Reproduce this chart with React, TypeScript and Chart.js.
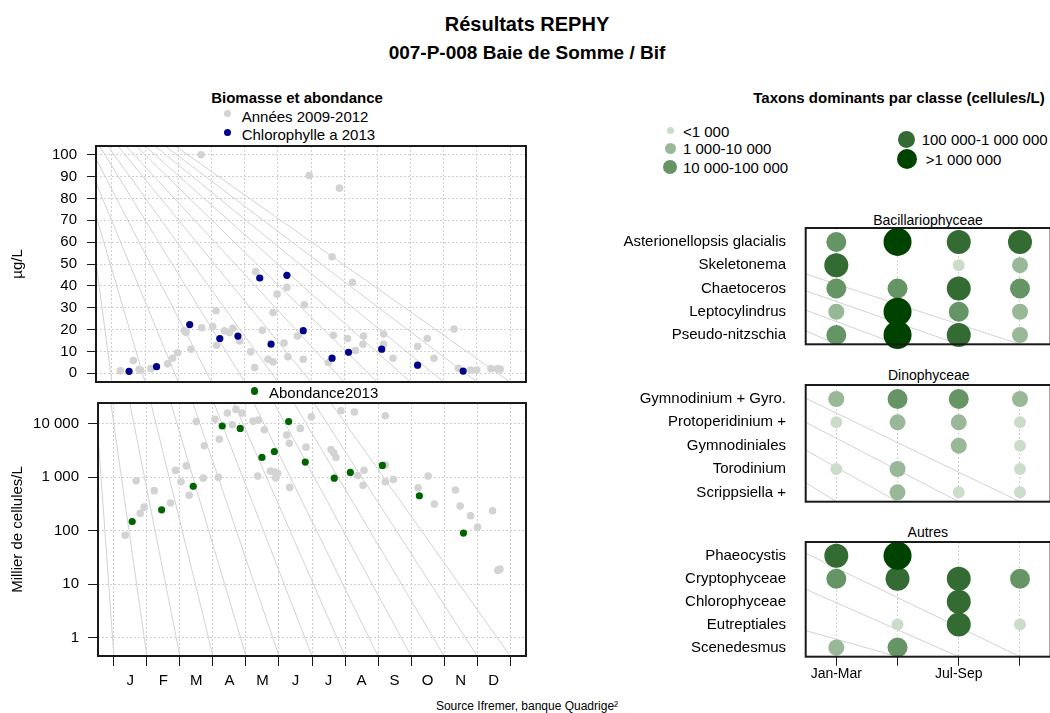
import React, { useEffect, useRef } from "react";
import { Chart, registerables } from "chart.js";

Chart.register(...registerables);

const FONT = '"Liberation Sans", Arial, Helvetica, sans-serif';

// ---------- Data ----------
const MONTHS = ["J", "F", "M", "A", "M", "J", "J", "A", "S", "O", "N", "D"];
const MONTH_BOUNDS = [0, 30.4, 60.8, 91.3, 121.7, 152.1, 182.5, 212.9, 243.3, 273.8, 304.2, 334.6, 365];
const CHL_TICKS = [0, 10, 20, 30, 40, 50, 60, 70, 80, 90, 100];
const AB_TICKS = [1, 10, 100, 1000, 10000];

// Chlorophylle a, années 2009-2012 (jour de l'année, µg/L)
const chlHistDays = [7.7, 19.6, 24.9, 26.4, 35.7, 51, 55.6, 60.2, 66.4, 67.9, 72.5, 81.7, 82.3, 92.4, 95.5, 96.1, 103.2, 107.8, 110.9, 117.1, 127.2, 130.9, 131.8, 137.9, 143.1, 147.7, 147.7, 151.4, 157.8, 160.4, 161.3, 170.1, 175.4, 176.3, 180.9, 198.4, 201.8, 203, 208.6, 215.9, 220.5, 223.3, 230.1, 230.7, 249.1, 249.1, 257.7, 280.2, 289.1, 295.2, 313.6, 317.6, 329, 334.5, 347.5, 353.6, 356];
const chlHistVals = [1.1, 5.8, 1.7, 1.4, 2.1, 4.3, 6.9, 9.4, 19.4, 18.6, 11.0, 100, 20.8, 21.4, 28.6, 12.8, 19.4, 18.6, 20.6, 14.8, 9.8, 2.6, 46.5, 19.7, 6.4, 27.8, 5.2, 36.2, 13.8, 39.3, 7.5, 17.0, 6.4, 31.3, 90.5, 4.9, 53.3, 17.4, 84.7, 15.9, 41.6, 10.4, 13.3, 17.0, 18.0, 13.3, 6.9, 12.2, 15.9, 6.9, 20.2, 2.3, 1.5, 1.5, 2.1, 2.1, 1.8];

// Chlorophylle a 2013
const chl2013Days = [15.7, 40.9, 71.3, 98.9, 115.5, 135.5, 145.9, 160.4, 175.4, 201.8, 216.9, 247.3, 280.2, 322];
const chl2013Vals = [0.9, 3.0, 22.3, 15.9, 17.0, 43.6, 13.3, 44.8, 19.5, 6.9, 9.6, 11.0, 3.7, 1.0];

// Abondance (milliers de cellules/L), années 2009-2012
const abHistDays = [10.4, 20.5, 24.3, 27.9, 37.2, 52.2, 56.8, 61.8, 66.7, 69.4, 75.9, 82.3, 83.3, 93.1, 96.2, 97.1, 104.5, 109.1, 112.5, 118.3, 128.2, 132.5, 133.1, 138.6, 144.2, 147.8, 149.1, 150.9, 159.2, 161.6, 161.9, 171.7, 177, 181.9, 200.1, 202.5, 204.6, 209.2, 221.5, 224.6, 229.5, 230.4, 250, 250, 250, 257.4, 280.2, 289.4, 295.2, 314.6, 319, 328.5, 335, 348.8, 353.7, 355.6];
const abHistVals = [82, 855, 210, 275, 560, 330, 1340, 820, 1630, 460, 11000, 960, 3880, 12200, 1000, 5150, 15900, 9600, 18600, 15900, 11200, 1050, 11700, 7750, 1300, 1260, 970, 1180, 6140, 4300, 645, 8200, 3650, 13500, 3300, 2870, 2340, 17500, 16600, 1080, 705, 1350, 14100, 820, 1690, 910, 635, 1050, 315, 575, 288, 190, 117, 235, 18, 19];

// Abondance 2013
const ab2013Days = [16.9, 44, 73.1, 99.8, 116.4, 136.4, 147.8, 161, 176.3, 203, 217.8, 247.3, 281.4, 322];
const ab2013Vals = [148, 245, 675, 9100, 8200, 2350, 3030, 11000, 1920, 960, 1230, 1660, 450, 90];

// Décor : lignes grises en éventail (jour au bord haut du cadre ; le bas est sur les limites de mois)
const chlFanTop = [-28.9, -33.4, -28.4, -20.7, -11.3, -3.7, 5.5, 12.9, 22.1, 30.4, 39.6, 48.8, 58.1];
const abFanTop = [-16.7, -2.8, 14.7, 34.1, 52.5, 72.8, 92.2, 110.6, 129.0, 147.5, 165.9, 184.3, 200.0];

// Taxons dominants (classe d'abondance par trimestre : 0 absent, 1..5)
const QUARTERS = ["Jan-Mar", "Apr-Jun", "Jul-Sep", "Oct-Dec"];
const CLASS_LABELS = ["<1 000", "1 000-10 000", "10 000-100 000", "100 000-1 000 000", ">1 000 000"];
const CLASS_COLORS = ["#cbdccb", "#98b898", "#659465", "#336b33", "#004200"];
const CLASS_RADII = [6, 8, 10, 12, 14];
const LEGEND_RADII = [3.5, 5.5, 7, 8.5, 10];

const bacTaxa = ["Asterionellopsis glacialis", "Skeletonema", "Chaetoceros", "Leptocylindrus", "Pseudo-nitzschia"];
const bacClasses = [
  [3, 5, 4, 4],
  [4, 0, 1, 2],
  [3, 3, 4, 3],
  [2, 5, 3, 2],
  [3, 5, 4, 2],
];
const dinoTaxa = ["Gymnodinium + Gyro.", "Protoperidinium +", "Gymnodiniales", "Torodinium", "Scrippsiella +"];
const dinoClasses = [
  [2, 3, 3, 2],
  [1, 2, 2, 1],
  [0, 0, 2, 1],
  [1, 2, 0, 1],
  [0, 2, 1, 1],
];
const autTaxa = ["Phaeocystis", "Cryptophyceae", "Chlorophyceae", "Eutreptiales", "Scenedesmus"];
const autClasses = [
  [4, 5, 0, 0],
  [3, 4, 4, 3],
  [0, 0, 4, 0],
  [0, 1, 4, 1],
  [2, 3, 0, 0],
];
// Décor des panneaux de droite : [ligne au bord gauche, colonne au bord bas]
const bacFan = [[2.38, 4], [3.1, 3], [3.93, 2], [4.82, 1]];
const dinoFan = [[0.97, 4], [2.0, 3], [3.19, 2], [4.58, 1]];
const autFan = [[0.89, 4], [2.46, 3], [4.26, 2]];

// ---------- Plugins ----------
const boxPlugin = {
  id: "box",
  afterDraw(chart: any) {
    const { ctx, chartArea: a } = chart;
    ctx.save();
    ctx.strokeStyle = "#1a1a1a";
    ctx.lineWidth = 2;
    ctx.strokeRect(a.left, a.top, a.right - a.left, a.bottom - a.top);
    ctx.restore();
  },
};

const fanPlugin = {
  id: "fan",
  beforeDatasetsDraw(chart: any, _args: any, opts: any) {
    const lines = opts && opts.lines;
    if (!lines) return;
    const { ctx, chartArea: a, scales } = chart;
    const x = scales.x, y = scales.y;
    ctx.save();
    ctx.beginPath();
    ctx.rect(a.left, a.top, a.right - a.left, a.bottom - a.top);
    ctx.clip();
    ctx.strokeStyle = "#d2d2d2";
    ctx.lineWidth = 1;
    for (const l of lines) {
      ctx.beginPath();
      ctx.moveTo(x.getPixelForValue(l[0]), y.getPixelForValue(l[1]));
      ctx.lineTo(x.getPixelForValue(l[2]), y.getPixelForValue(l[3]));
      ctx.stroke();
    }
    ctx.restore();
  },
};

const pts = (xs: number[], ys: number[]) => xs.map((x, i) => ({ x, y: ys[i] }));
const fmtSpace = (v: number) => String(v).replace(/\B(?=(\d{3})+(?!\d))/g, " ");

const GRID = "#cfcfcf";

const fixH = (h: number) => (s: any) => { s.height = h; s.paddingLeft = 0; s.paddingRight = 0; };
const fixW = (w: number) => (s: any) => { s.width = w; s.paddingTop = 0; s.paddingBottom = 0; };

function monthAxis(showLabels: boolean, height: number) {
  return {
    type: "linear",
    min: -14.6,
    max: 379.6,
    afterBuildTicks: (s: any) => { s.ticks = MONTH_BOUNDS.map((v) => ({ value: v })); },
    afterFit: fixH(height),
    ticks: {
      display: showLabels,
      autoSkip: false,
      maxRotation: 0,
      labelOffset: 16.5,
      padding: 6,
      color: "#000",
      font: { family: FONT, size: 15 },
      callback: (_v: any, i: number) => (i < 12 ? MONTHS[i] : ""),
    },
    grid: { color: GRID, drawTicks: showLabels, tickLength: 10, tickColor: "#1a1a1a", tickBorderDash: [], tickWidth: 1 },
    border: { display: false, dash: [2, 2] },
  };
}

function chlConfig() {
  return {
    type: "scatter",
    data: {
      datasets: [
        { data: pts(chlHistDays, chlHistVals), backgroundColor: "#d3d3d3", pointRadius: 3.8, borderWidth: 0, order: 2 },
        { data: pts(chl2013Days, chl2013Vals), backgroundColor: "#00008b", pointRadius: 3.6, borderWidth: 0, order: 1 },
      ],
    },
    options: {
      responsive: false,
      animation: false,
      devicePixelRatio: 1,
      layout: { autoPadding: false, padding: { top: 6, right: 14, bottom: 0, left: 0 } },
      plugins: {
        legend: { display: false },
        tooltip: { enabled: false },
        fan: { lines: chlFanTop.map((t, k) => [t, 104, MONTH_BOUNDS[k], -4]) },
      },
      scales: {
        x: monthAxis(false, 8),
        y: {
          type: "linear",
          min: -4,
          max: 104,
          afterBuildTicks: (s: any) => { s.ticks = CHL_TICKS.map((v) => ({ value: v })); },
          afterFit: fixW(96),
          ticks: { color: "#000", padding: 10, font: { family: FONT, size: 15 }, callback: (v: any) => String(v) },
          grid: { color: GRID, tickLength: 9, tickColor: "#1a1a1a", tickBorderDash: [], tickWidth: 1 },
          border: { display: false, dash: [2, 2] },
          title: { display: true, text: "µg/L", color: "#000", font: { family: FONT, size: 15 }, padding: { top: 9, bottom: 0 } },
        },
      },
    },
    plugins: [fanPlugin, boxPlugin],
  };
}

function abConfig() {
  return {
    type: "scatter",
    data: {
      datasets: [
        { data: pts(abHistDays, abHistVals), backgroundColor: "#d3d3d3", pointRadius: 3.8, borderWidth: 0, order: 2 },
        { data: pts(ab2013Days, ab2013Vals), backgroundColor: "#006400", pointRadius: 3.6, borderWidth: 0, order: 1 },
      ],
    },
    options: {
      responsive: false,
      animation: false,
      devicePixelRatio: 1,
      layout: { autoPadding: false, padding: { top: 5, right: 14, bottom: 0, left: 0 } },
      plugins: {
        legend: { display: false },
        tooltip: { enabled: false },
        fan: { lines: abFanTop.map((t, k) => [t, 24500, MONTH_BOUNDS[k], 0.45]) },
      },
      scales: {
        x: monthAxis(true, 34),
        y: {
          type: "logarithmic",
          min: 0.45,
          max: 24500,
          afterBuildTicks: (s: any) => { s.ticks = AB_TICKS.map((v) => ({ value: v })); },
          afterFit: fixW(98),
          ticks: { color: "#000", padding: 9, font: { family: FONT, size: 15 }, callback: (v: any) => fmtSpace(v) },
          grid: { color: GRID, tickLength: 10, tickColor: "#1a1a1a", tickBorderDash: [], tickWidth: 1 },
          border: { display: false, dash: [2, 2] },
          title: { display: true, text: "Millier de cellules/L", color: "#000", font: { family: FONT, size: 15 }, padding: { top: 9, bottom: 0 } },
        },
      },
    },
    plugins: [fanPlugin, boxPlugin],
  };
}

function taxaConfig(taxa: string[], classes: number[][], fan: number[][], showX: boolean, top: number, xHeight: number) {
  const datasets = CLASS_COLORS.map((color, c) => {
    const data: { x: number; y: number }[] = [];
    classes.forEach((row, r) => row.forEach((cls, q) => { if (cls === c + 1) data.push({ x: q + 1, y: r + 1 }); }));
    return { data, backgroundColor: color, pointRadius: CLASS_RADII[c], borderWidth: 0, clip: false, order: 5 - c };
  });
  return {
    type: "scatter",
    data: { datasets },
    options: {
      responsive: false,
      animation: false,
      devicePixelRatio: 1,
      layout: { autoPadding: false, padding: { top, right: 1.4, bottom: 0, left: 0 } },
      plugins: {
        legend: { display: false },
        tooltip: { enabled: false },
        fan: { lines: fan.map(([yl, col]) => [0.5, yl, col, 5.4]) },
      },
      scales: {
        x: {
          type: "linear",
          min: 0.5,
          max: 4.5,
          afterBuildTicks: (s: any) => { s.ticks = [1, 2, 3, 4].map((v) => ({ value: v })); },
          afterFit: fixH(xHeight),
          ticks: {
            display: showX,
            autoSkip: false,
            maxRotation: 0,
            padding: 0,
            color: "#000",
            font: { family: FONT, size: 14 },
            callback: (_v: any, i: number) => (i % 2 === 0 ? QUARTERS[i] : ""),
          },
          grid: { color: GRID, drawTicks: showX, tickLength: 9, tickColor: "#1a1a1a", tickBorderDash: [], tickWidth: 1 },
          border: { display: false, dash: [2, 2] },
        },
        y: {
          type: "linear",
          min: 0.4,
          max: 5.4,
          reverse: true,
          afterBuildTicks: (s: any) => { s.ticks = [1, 2, 3, 4, 5].map((v) => ({ value: v })); },
          afterFit: fixW(205.7),
          ticks: { autoSkip: false, color: "#000", padding: 19.7, font: { family: FONT, size: 15 }, callback: (v: any) => taxa[v - 1] ?? "" },
          grid: { display: false, drawTicks: false },
          border: { display: false },
        },
      },
    },
    plugins: [fanPlugin, boxPlugin],
  };
}

// ---------- Components ----------
function ChartCanvas({ left, top, width, height, make }: { left: number; top: number; width: number; height: number; make: () => any }) {
  const ref = useRef<HTMLCanvasElement | null>(null);
  useEffect(() => {
    if (!ref.current) return;
    const chart = new Chart(ref.current, make());
    return () => chart.destroy();
  }, []);
  return <canvas ref={ref} width={width} height={height} style={{ position: "absolute", left, top, width, height }} />;
}

function Txt({ x, y, size = 15, bold = false, align = "left", children }: { x: number; y: number; size?: number; bold?: boolean; align?: "left" | "center" | "right"; children: any }) {
  const tx = align === "center" ? "translateX(-50%)" : align === "right" ? "translateX(-100%)" : "none";
  return (
    <div
      style={{
        position: "absolute",
        left: x,
        top: y - size * 0.6,
        height: size * 1.2,
        lineHeight: `${size * 1.2}px`,
        fontFamily: FONT,
        fontSize: size,
        fontWeight: bold ? "bold" : "normal",
        color: "#000",
        whiteSpace: "nowrap",
        transform: tx,
      }}
    >
      {children}
    </div>
  );
}

function Dot({ x, y, r, color }: { x: number; y: number; r: number; color: string }) {
  return <div style={{ position: "absolute", left: x - r, top: y - r, width: 2 * r, height: 2 * r, borderRadius: "50%", background: color }} />;
}

export default function App() {
  return (
    <div style={{ position: "absolute", left: 0, top: 0, width: 1050, height: 713, overflow: "hidden", background: "#fff" }}>
      <Txt x={527} y={24} size={20} bold align="center">Résultats REPHY</Txt>
      <Txt x={527} y={53} size={19} bold align="center">007-P-008 Baie de Somme / Bif</Txt>

      <Txt x={297} y={98} size={15} bold align="center">Biomasse et abondance</Txt>
      <Dot x={227.7} y={113.3} r={3.8} color="#d3d3d3" />
      <Txt x={241.7} y={117} size={15}>Années 2009-2012</Txt>
      <Dot x={227.7} y={132.3} r={3.6} color="#00008b" />
      <Txt x={241.7} y={135} size={15}>Chlorophylle a 2013</Txt>

      <ChartCanvas left={0} top={140} width={540} height={250} make={chlConfig} />

      <Dot x={254.3} y={391} r={3.6} color="#006400" />
      <Txt x={269} y={393.3} size={15}>Abondance2013</Txt>

      <ChartCanvas left={0} top={398} width={540} height={292} make={abConfig} />

      <Txt x={899} y={98.3} size={15} bold align="center">Taxons dominants par classe (cellules/L)</Txt>
      {CLASS_LABELS.map((lab, i) => {
        const col = i < 3 ? 0 : 1;
        const dx = col === 0 ? 670 : 906.7;
        const dy = col === 0 ? [130.7, 148.3, 166.7][i] : [139.3, 159][i - 3];
        const tx = col === 0 ? 683 : 921.7;
        return (
          <React.Fragment key={lab}>
            <Dot x={dx} y={dy} r={LEGEND_RADII[i]} color={CLASS_COLORS[i]} />
            <Txt x={tx} y={dy + 1} size={15}>{i === 4 ? "\u00a0" + lab : lab}</Txt>
          </React.Fragment>
        );
      })}

      <Txt x={928} y={220.7} size={14} align="center">Bacillariophyceae</Txt>
      <ChartCanvas left={600} top={200} width={452} height={150} make={() => taxaConfig(bacTaxa, bacClasses, bacFan, false, 28, 5.7)} />

      <Txt x={928.8} y={375.7} size={14} align="center">Dinophyceae</Txt>
      <ChartCanvas left={600} top={360} width={452} height={150} make={() => taxaConfig(dinoTaxa, dinoClasses, dinoFan, false, 25, 8.3)} />

      <Txt x={927.8} y={532.7} size={14} align="center">Autres</Txt>
      <ChartCanvas left={600} top={520} width={452} height={170} make={() => taxaConfig(autTaxa, autClasses, autFan, true, 22, 33.3)} />

      <Txt x={527} y={706} size={12} align="center">Source Ifremer, banque Quadrige²</Txt>
    </div>
  );
}
